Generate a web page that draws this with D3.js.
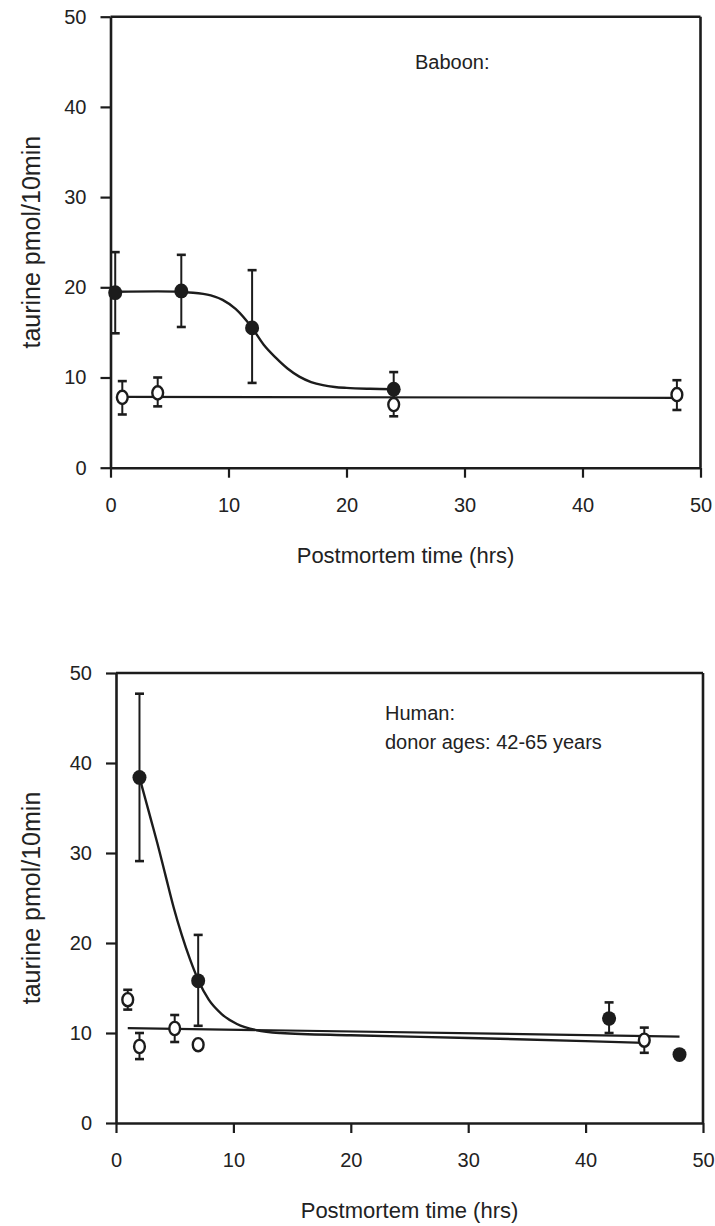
<!DOCTYPE html>
<html>
<head>
<meta charset="utf-8">
<script src="https://cdn.jsdelivr.net/npm/d3@7/dist/d3.min.js"></script>
<style>
  html, body { margin: 0; padding: 0; background: #fff; }
  svg { display: block; }
  text { font-family: "Liberation Sans", Arial, Helvetica, sans-serif; fill: #222; }
</style>
</head>
<body>
<svg id="chart" width="715" height="1226"></svg>
<script>
// ---- Shared tick labels ----
const xTicks = [0, 10, 20, 30, 40, 50];
const yTicks = [0, 10, 20, 30, 40, 50];
const xTitle = "Postmortem time (hrs)";
const yTitle = "taurine pmol/10min";

// ---- Baboon: filled symbols (mean, upper and lower error) ----
const baboonFilledHrs  = [0.4, 6, 12, 24];
const baboonFilledMean = [19.4, 19.6, 15.5, 8.7];
const baboonFilledHi   = [23.9, 23.6, 21.9, 10.6];
const baboonFilledLo   = [14.9, 15.6, 9.4, 6.8];

// ---- Baboon: open symbols ----
const baboonOpenHrs  = [1, 4, 24, 48];
const baboonOpenMean = [7.8, 8.3, 7.0, 8.1];
const baboonOpenHi   = [9.6, 10.0, 8.2, 9.7];
const baboonOpenLo   = [5.9, 6.8, 5.7, 6.4];

// ---- Baboon: fitted curves ----
const baboonFilledFitHrs = [0.4, 4, 7, 8.5, 9.5, 10.6, 12, 13, 14, 15, 16, 17, 18, 19, 20, 22, 24];
const baboonFilledFitVal = [19.5, 19.55, 19.4, 19.1, 18.6, 17.6, 15.5, 13.6, 12.2, 11.0, 10.1, 9.5, 9.15, 8.95, 8.85, 8.75, 8.7];
const baboonOpenFitHrs = [1, 48];
const baboonOpenFitVal = [7.85, 7.75];

// ---- Human: filled symbols ----
const humanFilledHrs  = [2, 7, 42, 48];
const humanFilledMean = [38.4, 15.8, 11.6, 7.6];
const humanFilledHi   = [47.7, 20.9, 13.4, null];
const humanFilledLo   = [29.1, 10.8, 10.0, null];

// ---- Human: open symbols ----
const humanOpenHrs  = [1, 2, 5, 7, 45];
const humanOpenMean = [13.7, 8.5, 10.5, 8.7, 9.2];
const humanOpenHi   = [14.8, 10.0, 12.0, null, 10.6];
const humanOpenLo   = [12.6, 7.1, 9.0, null, 7.8];

// ---- Human: fitted curves ----
const humanFilledFitHrs = [2, 2.5, 3, 3.5, 4.2, 4.9, 5.6, 6.3, 7, 7.9, 9, 10.3, 12, 14, 20, 30, 40, 45];
const humanFilledFitVal = [38.4, 36.0, 33.6, 31.2, 27.6, 24.0, 20.9, 18.2, 15.9, 13.7, 12.1, 11.0, 10.3, 10.0, 9.75, 9.45, 9.1, 8.9];
const humanOpenFitHrs = [1, 48];
const humanOpenFitVal = [10.55, 9.6];

const INK = "#1c1c1c";
const svg = d3.select("#chart");
svg.append("rect").attr("width", 715).attr("height", 1226).attr("fill", "#fff");

function zip(xs, ys) { return xs.map((d, i) => [d, ys[i]]); }

function panel(cfg) {
  const x = d3.scaleLinear().domain([0, 50]).range([cfg.left, cfg.right]);
  const y = d3.scaleLinear().domain([0, 50]).range([cfg.bottom, cfg.top]);
  const g = svg.append("g");

  // frame: top and right edges
  g.append("line").attr("x1", x(0)).attr("x2", x(50)).attr("y1", y(50)).attr("y2", y(50))
    .attr("stroke", INK).attr("stroke-width", 2.6);
  g.append("line").attr("x1", x(50)).attr("x2", x(50)).attr("y1", y(50)).attr("y2", y(0))
    .attr("stroke", INK).attr("stroke-width", 2.6);

  // axes
  const ya = g.append("g").attr("transform", `translate(${x(0)},0)`)
    .call(d3.axisLeft(y).tickValues(yTicks).tickSize(10).tickSizeOuter(0).tickPadding(14));
  const xa = g.append("g").attr("transform", `translate(0,${y(0)})`)
    .call(d3.axisBottom(x).tickValues(xTicks).tickSize(10).tickSizeOuter(0).tickPadding(20));
  [ya, xa].forEach(a => {
    a.select(".domain").attr("stroke", INK).attr("stroke-width", 2.6);
    a.selectAll(".tick line").attr("stroke", INK).attr("stroke-width", 2.2);
    a.selectAll(".tick text").style("font-size", "20px").attr("fill", "#222")
      .style("font-family", '"Liberation Sans", Arial, sans-serif');
  });

  // axis titles
  g.append("text").attr("x", (x(0) + x(50)) / 2).attr("y", y(0) + 95)
    .attr("text-anchor", "middle").style("font-size", "22px").text(xTitle);
  g.append("text").attr("transform", `translate(40,${(y(0) + y(50)) / 2}) rotate(-90)`)
    .attr("text-anchor", "middle").style("font-size", "25px").text(yTitle);

  // annotation
  cfg.notes.forEach((t, i) => {
    g.append("text").attr("x", cfg.noteX).attr("y", cfg.noteY + i * cfg.noteGap)
      .style("font-size", cfg.noteSize + "px").text(t);
  });

  const line = d3.line().x(d => x(d[0])).y(d => y(d[1]));

  // fitted curves
  g.append("path").datum(zip(cfg.openFitHrs, cfg.openFitVal))
    .attr("d", line).attr("fill", "none").attr("stroke", INK).attr("stroke-width", 2.2);
  g.append("path").datum(zip(cfg.filledFitHrs, cfg.filledFitVal))
    .attr("d", line.curve(d3.curveMonotoneX)).attr("fill", "none").attr("stroke", INK).attr("stroke-width", 2.4);

  // error bars
  function errorBars(hrs, hi, lo) {
    hrs.forEach((h, i) => {
      if (hi[i] == null) return;
      const cx = x(h);
      g.append("line").attr("x1", cx).attr("x2", cx).attr("y1", y(hi[i])).attr("y2", y(lo[i]))
        .attr("stroke", INK).attr("stroke-width", 2);
      [hi[i], lo[i]].forEach(v => {
        g.append("line").attr("x1", cx - 4.5).attr("x2", cx + 4.5).attr("y1", y(v)).attr("y2", y(v))
          .attr("stroke", INK).attr("stroke-width", 2.6);
      });
    });
  }
  errorBars(cfg.openHrs, cfg.openHi, cfg.openLo);
  errorBars(cfg.filledHrs, cfg.filledHi, cfg.filledLo);

  // open markers
  g.selectAll(null).data(zip(cfg.openHrs, cfg.openMean)).enter().append("ellipse")
    .attr("cx", d => x(d[0])).attr("cy", d => y(d[1]))
    .attr("rx", 5.4).attr("ry", 6.6)
    .attr("fill", "#fff").attr("stroke", INK).attr("stroke-width", 2.4);
  // filled markers
  g.selectAll(null).data(zip(cfg.filledHrs, cfg.filledMean)).enter().append("ellipse")
    .attr("cx", d => x(d[0])).attr("cy", d => y(d[1]))
    .attr("rx", 7).attr("ry", 7.4)
    .attr("fill", INK);
}

panel({
  left: 110.5, right: 700.5, top: 16.7, bottom: 467.7,
  notes: ["Baboon:"], noteX: 415, noteY: 69, noteGap: 0, noteSize: 20,
  filledHrs: baboonFilledHrs, filledMean: baboonFilledMean, filledHi: baboonFilledHi, filledLo: baboonFilledLo,
  openHrs: baboonOpenHrs, openMean: baboonOpenMean, openHi: baboonOpenHi, openLo: baboonOpenLo,
  filledFitHrs: baboonFilledFitHrs, filledFitVal: baboonFilledFitVal,
  openFitHrs: baboonOpenFitHrs, openFitVal: baboonOpenFitVal
});

panel({
  left: 116, right: 703, top: 673, bottom: 1123,
  notes: ["Human:", "donor ages: 42-65 years"], noteX: 385, noteY: 720, noteGap: 29, noteSize: 20,
  filledHrs: humanFilledHrs, filledMean: humanFilledMean, filledHi: humanFilledHi, filledLo: humanFilledLo,
  openHrs: humanOpenHrs, openMean: humanOpenMean, openHi: humanOpenHi, openLo: humanOpenLo,
  filledFitHrs: humanFilledFitHrs, filledFitVal: humanFilledFitVal,
  openFitHrs: humanOpenFitHrs, openFitVal: humanOpenFitVal
});
</script>
</body>
</html>
